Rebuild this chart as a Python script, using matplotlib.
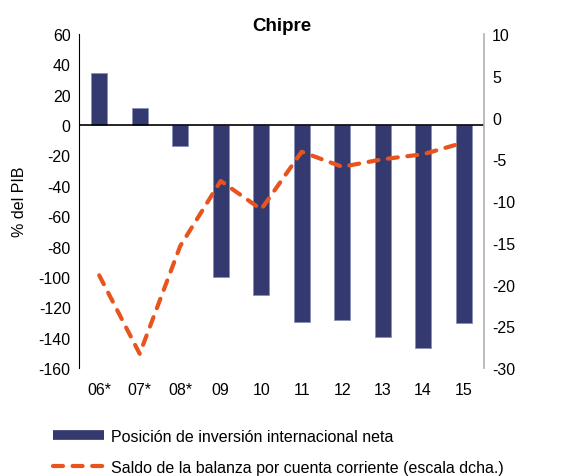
import matplotlib
matplotlib.use('Agg')
import matplotlib.pyplot as plt
import numpy as np
from matplotlib.lines import Line2D

plt.rcParams['font.family'] = ['Liberation Sans', 'DejaVu Sans']
plt.rcParams['axes.unicode_minus'] = False

# data
years = ['06*', '07*', '08*', '09', '10', '11', '12', '13', '14', '15']
piin = [34, 11, -13.5, -100, -112, -129.5, -128.5, -139.5, -147, -130.5]
cuenta_corriente = [-18.9, -28.3, -15.4, -7.6, -11, -4.1, -5.9, -5.0, -4.4, -3.0]

bar_color = '#343a6f'
line_color = '#e8541e'
dash = (0, (2.4, 2.3))

fig = plt.figure(figsize=(5.64, 4.77), dpi=100)
ax = fig.add_axes([0.140, 0.2264, 0.718, 0.7002])
ax2 = ax.twinx()

x = np.arange(len(years))
ax.bar(x, piin, width=0.4, color=bar_color, edgecolor='#8890b8', linewidth=0.6, zorder=2)
ax.axhline(0, color='black', lw=1.2, zorder=3)
ax2.plot(x, cuenta_corriente, color=line_color, lw=3.0, ls=dash,
         dash_capstyle='round', zorder=4)

ax.set_xlim(-0.5, len(years) - 0.5)
ax.set_ylim(-160, 60)
ax.set_yticks(np.arange(-160, 61, 20))
ax2.set_ylim(-30, 10)
ax2.set_yticks(np.arange(-30, 11, 5))
ax.set_xticks(x)
ax.set_xticklabels(years)

for a in (ax, ax2):
    a.tick_params(length=0, labelsize=11.5, pad=6)
    a.spines['top'].set_visible(False)
    a.spines['bottom'].set_visible(False)
ax.tick_params(axis='x', pad=10)
ax.spines['left'].set_color('black')
ax.spines['right'].set_visible(False)
ax2.spines['left'].set_visible(False)
ax2.spines['right'].set_color('#b0b0b0')
ax2.spines['right'].set_linewidth(1.2)

ax.set_ylabel('% del PIB', fontsize=11.5, labelpad=8)
ax.set_title('Chipre', fontsize=13.5, fontweight='bold', pad=3)

legend_elements = [
    Line2D([0], [0], color=bar_color, lw=7, solid_capstyle='butt',
           label='Posición de inversión internacional neta'),
    Line2D([0], [0], color=line_color, lw=3.0, ls=dash, dash_capstyle='round',
           label='Saldo de la balanza por cuenta corriente (escala dcha.)'),
]
fig.legend(handles=legend_elements, loc='upper left', bbox_to_anchor=(0.083, 0.112),
           frameon=False, fontsize=11.5, handlelength=3.2, handletextpad=0.4,
           labelspacing=1.0, borderaxespad=0)

fig.savefig('out.png', dpi=100)
